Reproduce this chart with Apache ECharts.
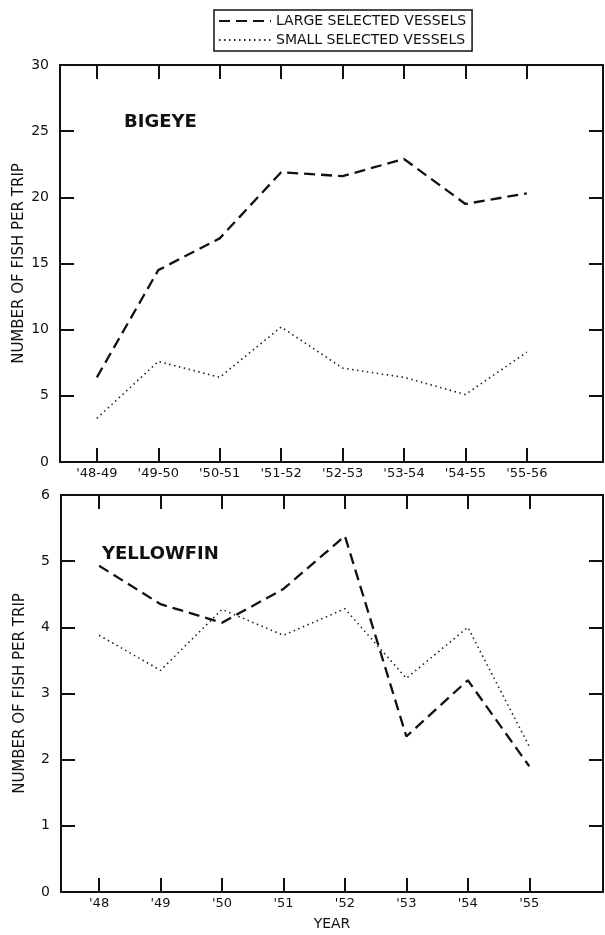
<!doctype html>
<html>
<head>
<meta charset="utf-8">
<title>Bigeye / Yellowfin</title>
<script src="https://cdn.jsdelivr.net/npm/echarts@6/dist/echarts.min.js"></script>
<style>
  html, body { margin: 0; padding: 0; background: #fff; }
  #chart { width: 605px; height: 935px; }
</style>
</head>
<body>
<div id="chart"></div>
<script>
// values
const seasonLabels = ["'48-49", "'49-50", "'50-51", "'51-52", "'52-53", "'53-54", "'54-55", "'55-56"];
const yearLabels = ["'48", "'49", "'50", "'51", "'52", "'53", "'54", "'55"];
const bigeyeLarge = [6.4, 14.5, 16.9, 21.9, 21.6, 22.9, 19.5, 20.3];
const bigeyeSmall = [3.3, 7.6, 6.4, 10.2, 7.1, 6.4, 5.1, 8.3];
const yellowfinLarge = [4.93, 4.35, 4.07, 4.58, 5.38, 2.35, 3.2, 1.9];
const yellowfinSmall = [3.88, 3.35, 4.27, 3.88, 4.28, 3.23, 4.0, 2.2];

const FONT = 'DejaVu Sans';
const INK = '#111';
const idx = seasonLabels.map((_, i) => i);
const pairs = arr => arr.map((v, i) => [i, v]);

var chart = echarts.init(document.getElementById('chart'));

function xAx(grid, labels, min, max, top) {
  return {
    type: 'value', gridIndex: grid, min: min, max: max,
    position: top ? 'top' : 'bottom',
    axisLine: { show: true, onZero: false, lineStyle: { color: INK, width: 2 } },
    axisTick: { show: true, inside: true, length: 14, customValues: idx, lineStyle: { color: INK, width: 2 } },
    axisLabel: {
      show: !top, customValues: idx, margin: 5,
      color: INK, fontFamily: FONT, fontSize: 13,
      formatter: v => labels[Math.round(v)]
    },
    splitLine: { show: false }
  };
}

function yAx(grid, max, interval, right) {
  return {
    type: 'value', gridIndex: grid, min: 0, max: max, interval: interval,
    position: right ? 'right' : 'left',
    name: right ? '' : 'NUMBER OF FISH PER TRIP',
    nameLocation: 'middle', nameGap: 33, nameMoveOverlap: false,
    nameTextStyle: { color: INK, fontFamily: FONT, fontSize: 15 },
    axisLine: { show: true, onZero: false, lineStyle: { color: INK, width: 2 } },
    axisTick: { show: true, inside: true, length: 14, lineStyle: { color: INK, width: 2 } },
    axisLabel: { show: !right, margin: 11, color: INK, fontFamily: FONT, fontSize: 14 },
    splitLine: { show: false }
  };
}

const dashed = { color: INK, width: 2.3, type: [11, 6] };
const dotted = { color: '#222', width: 1.6, type: [1.5, 3.5] };

option = {
  animation: false,
  backgroundColor: '#fff',
  title: [
    { text: 'BIGEYE', left: 124, top: 113, padding: 0, textStyle: { fontFamily: FONT, fontSize: 18, fontWeight: 'bold', color: INK } },
    { text: 'YELLOWFIN', left: 102, top: 545, padding: 0, textStyle: { fontFamily: FONT, fontSize: 18, fontWeight: 'bold', color: INK } }
  ],
  legend: {
    orient: 'vertical', left: 214, top: 10,
    padding: [4, 6, 4, 4], itemGap: 5, itemWidth: 52, itemHeight: 15,
    borderColor: INK, borderWidth: 1.5,
    itemStyle: { opacity: 0 },
    textStyle: { fontFamily: FONT, fontSize: 14, color: INK },
    data: ['LARGE SELECTED VESSELS', 'SMALL SELECTED VESSELS']
  },
  grid: [
    { left: 60, right: 2, top: 65, height: 397 },
    { left: 61, right: 2, top: 495, height: 397 }
  ],
  xAxis: [
    xAx(0, seasonLabels, -0.6, 8.24, false),
    xAx(0, seasonLabels, -0.6, 8.24, true),
    Object.assign(xAx(1, yearLabels, -0.62, 8.2, false), {
      name: 'YEAR', nameLocation: 'middle', nameGap: 25, nameMoveOverlap: false,
      nameTextStyle: { color: INK, fontFamily: FONT, fontSize: 14 }
    }),
    xAx(1, yearLabels, -0.62, 8.2, true)
  ],
  yAxis: [
    yAx(0, 30, 5, false),
    yAx(0, 30, 5, true),
    yAx(1, 6, 1, false),
    yAx(1, 6, 1, true)
  ],
  series: [
    { name: 'LARGE SELECTED VESSELS', type: 'line', xAxisIndex: 0, yAxisIndex: 0, symbol: 'none', lineStyle: dashed, itemStyle: { color: INK }, data: pairs(bigeyeLarge) },
    { name: 'SMALL SELECTED VESSELS', type: 'line', xAxisIndex: 0, yAxisIndex: 0, symbol: 'none', lineStyle: dotted, itemStyle: { color: INK }, data: pairs(bigeyeSmall) },
    { name: 'LARGE SELECTED VESSELS', type: 'line', xAxisIndex: 2, yAxisIndex: 2, symbol: 'none', lineStyle: dashed, itemStyle: { color: INK }, data: pairs(yellowfinLarge) },
    { name: 'SMALL SELECTED VESSELS', type: 'line', xAxisIndex: 2, yAxisIndex: 2, symbol: 'none', lineStyle: dotted, itemStyle: { color: INK }, data: pairs(yellowfinSmall) }
  ]
};

chart.setOption(option);
</script>
</body>
</html>
